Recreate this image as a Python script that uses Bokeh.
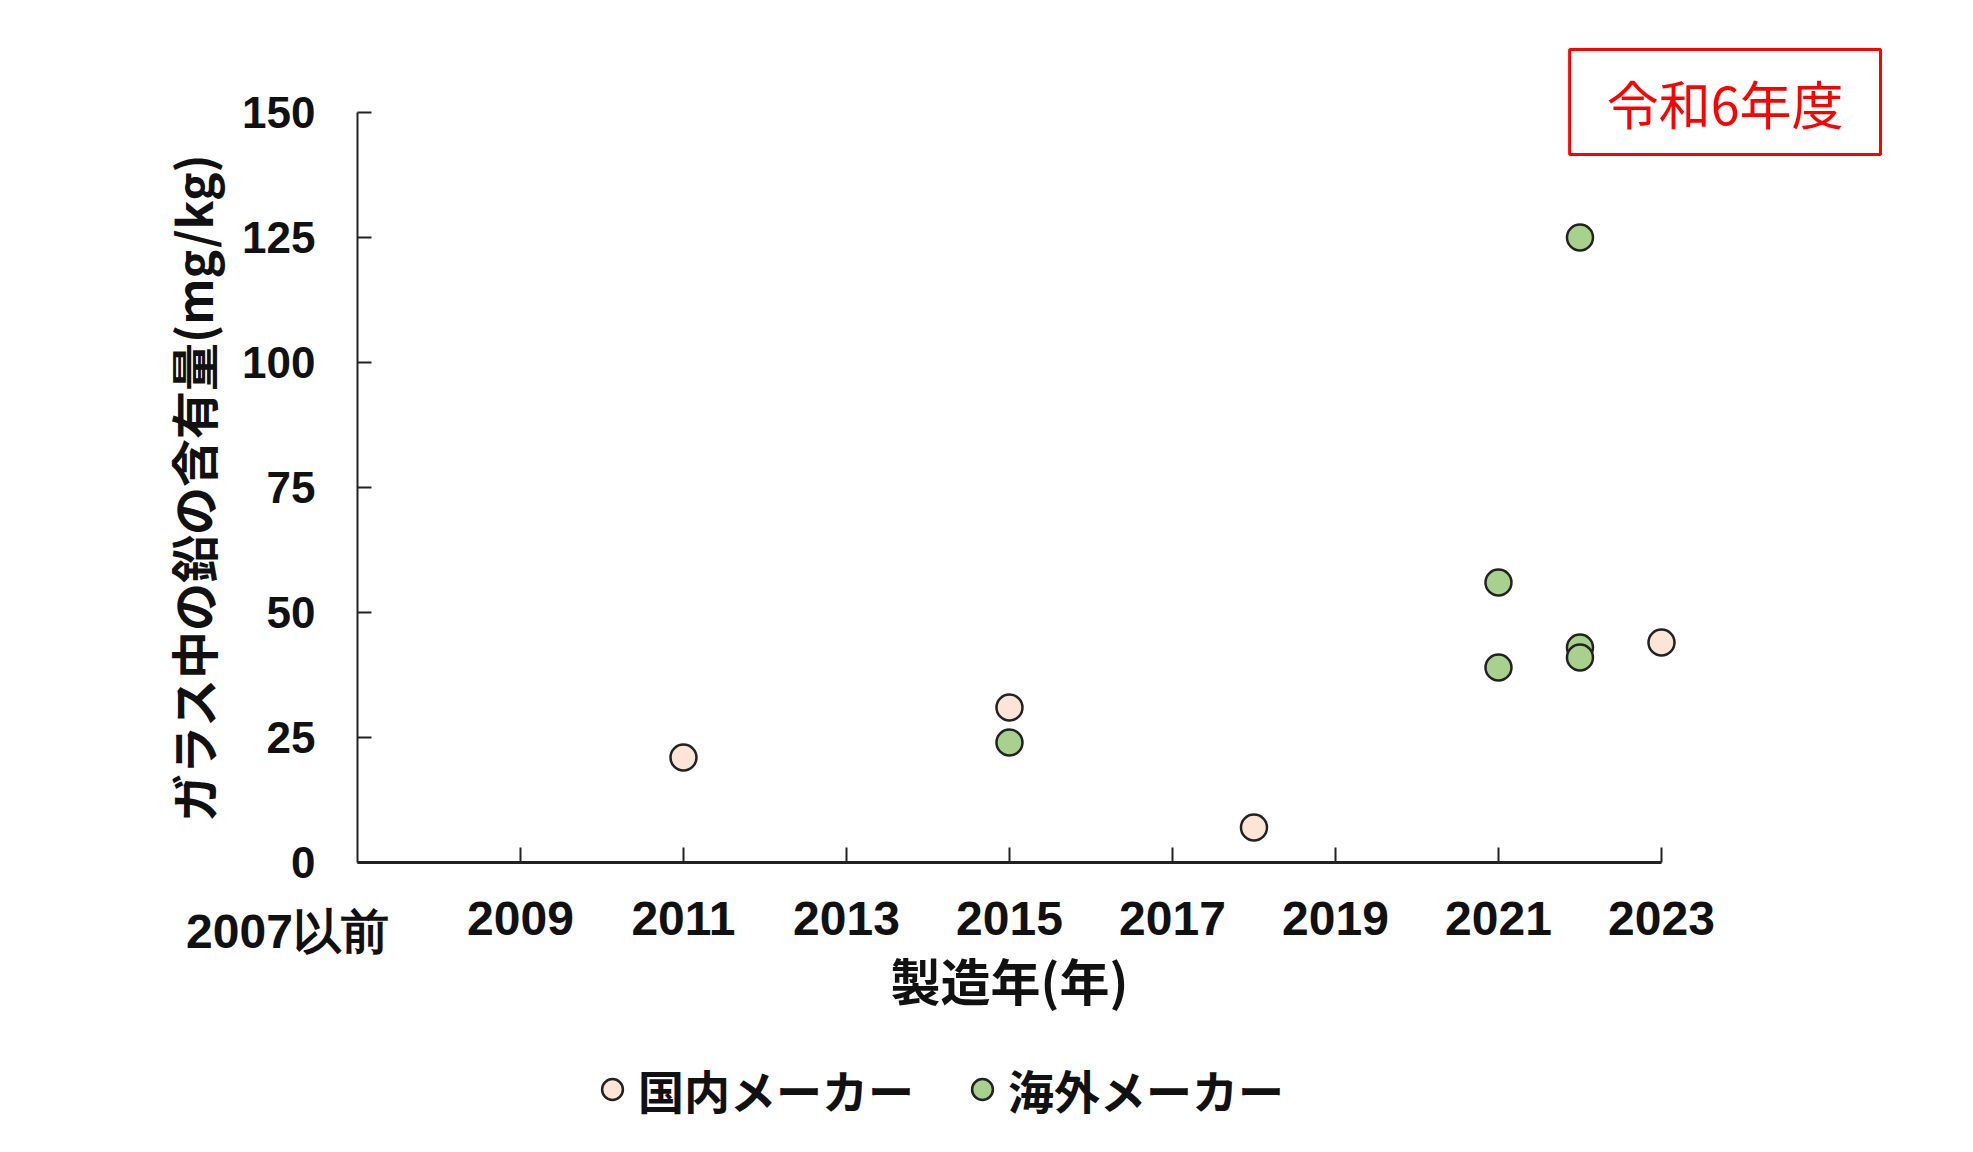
from bokeh.plotting import figure
from bokeh.models import Range1d, FixedTicker, Label, Legend, LegendItem
from bokeh.embed import file_html
from bokeh.resources import INLINE

# ---- data ----
years_domestic = [2011, 2015, 2018, 2023]
lead_domestic = [21, 31, 7, 44]
years_overseas = [2015, 2021, 2021, 2022, 2022, 2022]
lead_overseas = [24, 56, 39, 125, 43, 41]
x_ticks = [2009, 2011, 2013, 2015, 2017, 2019, 2021, 2023]
y_ticks = [0, 25, 50, 75, 100, 125, 150]
first_tick_label = "2007以前"
series_names = ["国内メーカー", "海外メーカー"]
title_text = "令和6年度"
x_title = "製造年(年)"
y_title = "ガラス中の鉛の含有量(mg/kg)"

X_MIN, X_MAX = 2007, 2023
Y_MIN, Y_MAX = 0, 150

SANS = "Liberation Sans"
CJK = "Noto Sans CJK JP"

p = figure(width=1957, height=1136, output_backend="svg", toolbar_location=None,
           x_range=Range1d(2002.62, 2026.632), y_range=Range1d(-54.8, 172.4),
           min_border_left=0, min_border_right=0,
           min_border_top=0, min_border_bottom=0)
p.outline_line_color = None
p.xgrid.visible = False
p.ygrid.visible = False

# x axis
xa = p.xaxis[0]
xa.fixed_location = Y_MIN
xa.bounds = (X_MIN, X_MAX)
xa.ticker = FixedTicker(ticks=x_ticks)
xa.axis_line_color = "#222222"
xa.axis_line_width = 3
xa.major_tick_line_color = "#222222"
xa.major_tick_line_width = 2
xa.major_tick_in = 15
xa.major_tick_out = 0
xa.minor_tick_line_color = None
xa.major_label_text_font = SANS
xa.major_label_text_font_style = "bold"
xa.major_label_text_font_size = "48px"
xa.major_label_text_color = "#111111"
xa.major_label_standoff = 39
xa.axis_label = x_title
xa.axis_label_text_font = CJK
xa.axis_label_text_font_style = "bold"
xa.axis_label_text_font_size = "50px"
xa.axis_label_text_color = "#111111"
xa.axis_label_standoff = 5

# y axis
ya = p.yaxis[0]
ya.fixed_location = X_MIN
ya.bounds = (Y_MIN, Y_MAX)
ya.ticker = FixedTicker(ticks=y_ticks)
ya.axis_line_color = "#222222"
ya.axis_line_width = 2
ya.major_tick_line_color = "#222222"
ya.major_tick_line_width = 2
ya.major_tick_in = 14
ya.major_tick_out = 0
ya.minor_tick_line_color = None
ya.major_label_text_font = SANS
ya.major_label_text_font_style = "bold"
ya.major_label_text_font_size = "44px"
ya.major_label_text_color = "#111111"
ya.major_label_standoff = 42
ya.axis_label = y_title
ya.axis_label_text_font = CJK
ya.axis_label_text_font_style = "bold"
ya.axis_label_text_font_size = "48px"
ya.axis_label_text_color = "#111111"
ya.axis_label_standoff = 12

# points
r1 = p.scatter(years_domestic, lead_domestic, size=26, marker="circle",
               fill_color="#FCE4D6", line_color="#222222", line_width=2.5)
r2 = p.scatter(years_overseas, lead_overseas, size=26, marker="circle",
               fill_color="#A9D18E", line_color="#222222", line_width=2.5)

# first category label
p.add_layout(Label(x=X_MIN, y=Y_MIN, x_offset=-70, y_offset=-69, text=first_tick_label,
                   text_align="center", text_baseline="middle",
                   text_font=SANS, text_font_style="bold", text_font_size="48px",
                   text_color="#111111"))

# title box
p.add_layout(Label(x=2023.78, y=152.1, text=title_text,
                   text_align="center", text_baseline="middle",
                   text_color="#FF0000", text_font=CJK, text_font_size="52px",
                   border_line_color="#FF0000", border_line_width=3,
                   background_fill_color="white",
                   padding=dict(left=37, right=37, top=15, bottom=15)))

legend = Legend(items=[LegendItem(label=series_names[0], renderers=[r1]),
                       LegendItem(label=series_names[1], renderers=[r2])],
                orientation="horizontal", location=(586, 14),
                glyph_width=52, glyph_height=52, label_standoff=0, spacing=42,
                padding=0, margin=0, border_line_color=None,
                background_fill_alpha=0,
                label_text_font=CJK, label_text_font_style="bold",
                label_text_font_size="46px", label_text_color="#111111")
p.add_layout(legend)

open("out.html", "w").write(file_html(p, INLINE))
